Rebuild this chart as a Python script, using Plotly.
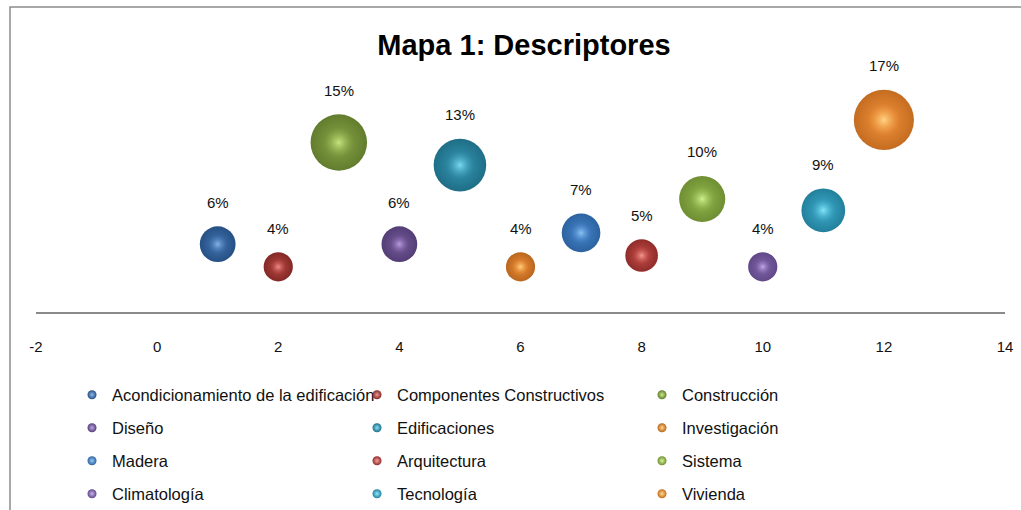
import math
import plotly.graph_objects as go

categories = ["Acondicionamiento de la edificación", "Componentes Constructivos", "Construcción",
              "Diseño", "Edificaciones", "Investigación",
              "Madera", "Arquitectura", "Sistema",
              "Climatología", "Tecnología", "Vivienda"]
x_pos = [1, 2, 3, 4, 5, 6, 7, 8, 9, 10, 11, 12]
pct = [6, 4, 15, 6, 13, 4, 7, 5, 10, 4, 9, 17]
x_ticks = [-2, 0, 2, 4, 6, 8, 10, 12, 14]

# (rim, body, highlight) as rgb tuples
sphere_colors = [
    ((38, 80, 132), (66, 116, 178), (140, 185, 235)),
    ((130, 40, 38), (186, 72, 66), (238, 150, 145)),
    ((98, 124, 46), (138, 166, 70), (205, 235, 135)),
    ((84, 62, 118), (118, 90, 156), (190, 165, 230)),
    ((30, 110, 134), (56, 152, 180), (130, 225, 248)),
    ((186, 102, 30), (238, 142, 56), (255, 215, 135)),
    ((44, 98, 160), (70, 134, 204), (150, 200, 248)),
    ((144, 44, 42), (198, 78, 72), (246, 160, 155)),
    ((110, 142, 50), (148, 184, 78), (215, 245, 150)),
    ((96, 72, 136), (130, 102, 172), (200, 178, 240)),
    ((34, 128, 156), (62, 172, 204), (140, 235, 252)),
    ((196, 108, 32), (242, 148, 60), (255, 220, 140)),
]


def rgb(c, a=1.0):
    return f"rgba({c[0]},{c[1]},{c[2]},{a})"


SIZEREF = 0.0094
HL_SCALE = 0.55
FONT = "Liberation Sans, Arial, sans-serif"

fig = go.Figure()
for i, name in enumerate(categories):
    rim, body, hl = sphere_colors[i]
    fig.add_trace(go.Scatter(
        x=[x_pos[i]], y=[pct[i]], mode="markers", name=name,
        showlegend=False, cliponaxis=False, hoverinfo="skip",
        marker=dict(size=[pct[i]], sizemode="area", sizeref=SIZEREF, color=rgb(rim),
                    opacity=1, line=dict(width=0),
                    gradient=dict(type="radial", color=rgb(body))),
    ))
    # soft specular highlight
    fig.add_trace(go.Scatter(
        x=[x_pos[i]], y=[pct[i]], mode="markers", name=name,
        showlegend=False, cliponaxis=False, hoverinfo="skip",
        marker=dict(size=[pct[i]], sizemode="area", sizeref=SIZEREF / HL_SCALE ** 2,
                    color=rgb(body, 0), opacity=1, line=dict(width=0),
                    gradient=dict(type="radial", color=rgb(hl, 0.9))),
    ))

# legend entries (3 columns x 4 rows)
legend_names = ["legend", "legend2", "legend3", "legend4"]
for i, name in enumerate(categories):
    rim, body, hl = sphere_colors[i]
    fig.add_trace(go.Scatter(
        x=[None], y=[None], mode="markers", name=name, showlegend=True,
        legend=legend_names[i // 3],
        marker=dict(size=9, color=rgb(rim), line=dict(width=0),
                    gradient=dict(type="radial", color=rgb(hl))),
    ))

# data labels above bubbles
for i in range(len(categories)):
    r = 0.5 * math.sqrt(2 * pct[i] / SIZEREF)
    fig.add_annotation(x=x_pos[i], y=pct[i], text=f"{pct[i]}%", showarrow=False,
                       yanchor="middle", yshift=r + 24,
                       font=dict(family=FONT, size=15, color="#111111"))

row_y = [395, 428, 461, 494]
leg_common = dict(orientation="h", xref="container", yref="container",
                  x=72 / 1021, xanchor="left", yanchor="middle",
                  entrywidth=240, entrywidthmode="pixels", itemwidth=30,
                  font=dict(family=FONT, size=16.5, color="#111111"),
                  bgcolor="rgba(0,0,0,0)", borderwidth=0, itemclick=False)
layout_legends = {}
for k, ln in enumerate(legend_names):
    layout_legends[ln] = dict(leg_common, y=1 - row_y[k] / 510)

fig.update_layout(
    width=1021, height=510,
    margin=dict(l=36, r=16, t=86, b=198, autoexpand=False),
    paper_bgcolor="white", plot_bgcolor="white",
    title=dict(text="<b>Mapa 1: Descriptores</b>", x=524 / 1021, xanchor="center",
               xref="container", yref="container", y=1 - 45 / 510, yanchor="middle",
               font=dict(family="Liberation Sans, Arial, sans-serif",
                         size=29, color="#000000")),
    xaxis=dict(range=[-2, 14], tickvals=x_ticks, ticktext=[str(t) for t in x_ticks],
               showgrid=False, zeroline=False, showline=True, linecolor="#8a8a8a",
               linewidth=2, ticks="", ticklabelstandoff=20, automargin=False,
               tickfont=dict(family=FONT, size=15, color="#111111")),
    yaxis=dict(range=[0, 20], visible=False, automargin=False),
    shapes=[dict(type="rect", xref="paper", yref="paper",
                 x0=(10 - 36) / 969, x1=1.1, y0=-1.2, y1=(312 - 7) / 226,
                 line=dict(color="#8c8c8c", width=1.5), fillcolor="rgba(0,0,0,0)",
                 layer="below")],
    **layout_legends,
)

fig.write_html(
    "out.html",
    config={"displayModeBar": False},
    post_script="document.body.style.margin='0';document.body.style.overflow='hidden';",
)
